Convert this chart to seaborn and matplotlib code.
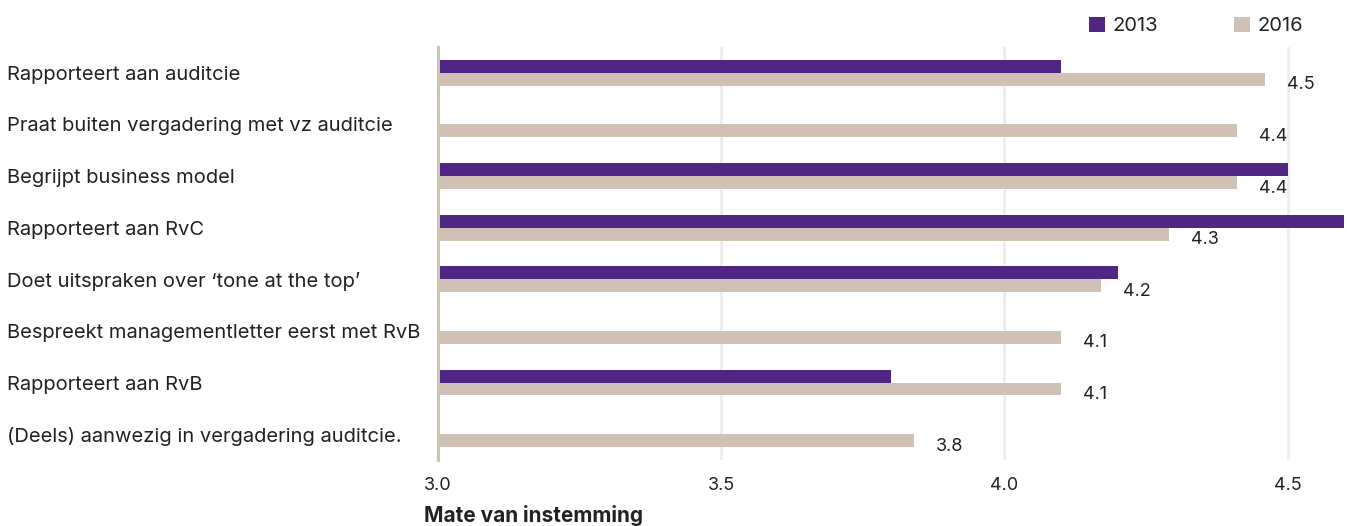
import matplotlib
matplotlib.use("Agg")
import matplotlib.pyplot as plt
import pandas as pd
import seaborn as sns

# statements (top to bottom)
items = ["Rapporteert aan auditcie",
         "Praat buiten vergadering met vz auditcie",
         "Begrijpt business model",
         "Rapporteert aan RvC",
         "Doet uitspraken over \u2018tone at the top\u2019",
         "Bespreekt managementletter eerst met RvB",
         "Rapporteert aan RvB",
         "(Deels) aanwezig in vergadering auditcie."]

# None = not asked in 2013
scores_2013 = [4.10, None, 4.50, 4.60, 4.20, None, 3.80, None]
scores_2016 = [4.46, 4.41, 4.41, 4.29, 4.17, 4.10, 4.10, 3.84]

years = ["2013", "2016"]
colors = ["#4f2683", "#cfc2b4"]

rows = []
for item, a, b in zip(items, scores_2013, scores_2016):
    if a is not None:
        rows.append({"item": item, "year": "2013", "score": a})
    rows.append({"item": item, "year": "2016", "score": b})
df = pd.DataFrame(rows)

sns.set_style("white")
plt.rcParams["font.family"] = ["Inter", "DejaVu Sans"]
plt.rcParams["text.color"] = "#222222"

fig = plt.figure(figsize=(13.47, 5.26), dpi=100)
ax = fig.add_axes([438 / 1347, 1 - 460 / 526, 1 - 438 / 1347, (460 - 47) / 526])

sns.barplot(data=df, y="item", x="score", hue="year", order=items,
            hue_order=years, palette=colors, orient="h", width=0.5,
            saturation=1, legend=False, linewidth=0, ax=ax)

ax.set_xlim(3.0, 4.605)
ax.set_ylim(len(items) - 0.5, -0.5)
ax.set_xticks([3.0, 3.5, 4.0, 4.5])
ax.set_xticklabels(["3.0", "3.5", "4.0", "4.5"])
ax.xaxis.grid(True, color="#efeeea", linewidth=2.2)
ax.set_axisbelow(True)
for s in ["top", "right", "bottom"]:
    ax.spines[s].set_visible(False)
ax.spines["left"].set_color("#cfc2b4")
ax.spines["left"].set_linewidth(2.2)
ax.spines["left"].set_zorder(5)

ax.tick_params(axis="x", length=0, pad=12, labelsize=13, labelcolor="#222222")
ax.tick_params(axis="y", length=0, pad=310, labelsize=14.5, labelcolor="#222222")
for t in ax.get_yticklabels():
    t.set_horizontalalignment("left")
ax.set_xlabel("")
ax.set_ylabel("")

# value labels for 2016
labels = ax.bar_label(ax.containers[1], fmt="%.1f", padding=16, fontsize=13,
                      color="#222222")
for t in labels:
    t.xyann = (16, -4)

fig.text(424 / 1347, 1 - 515 / 526, "Mate van instemming", fontsize=15,
         fontweight="bold", ha="left", va="center", color="#222222")

handles = [ax.containers[0].patches[0], ax.containers[1].patches[0]]
fig.legend(handles, years, loc="center right", frameon=False,
           bbox_to_anchor=(1303 / 1347, 1 - 26 / 526), ncol=2,
           fontsize=14.5, handlelength=0.8, handleheight=0.8,
           handletextpad=0.35, columnspacing=3.8, borderpad=0,
           borderaxespad=0)

fig.savefig("out.png", dpi=100)
